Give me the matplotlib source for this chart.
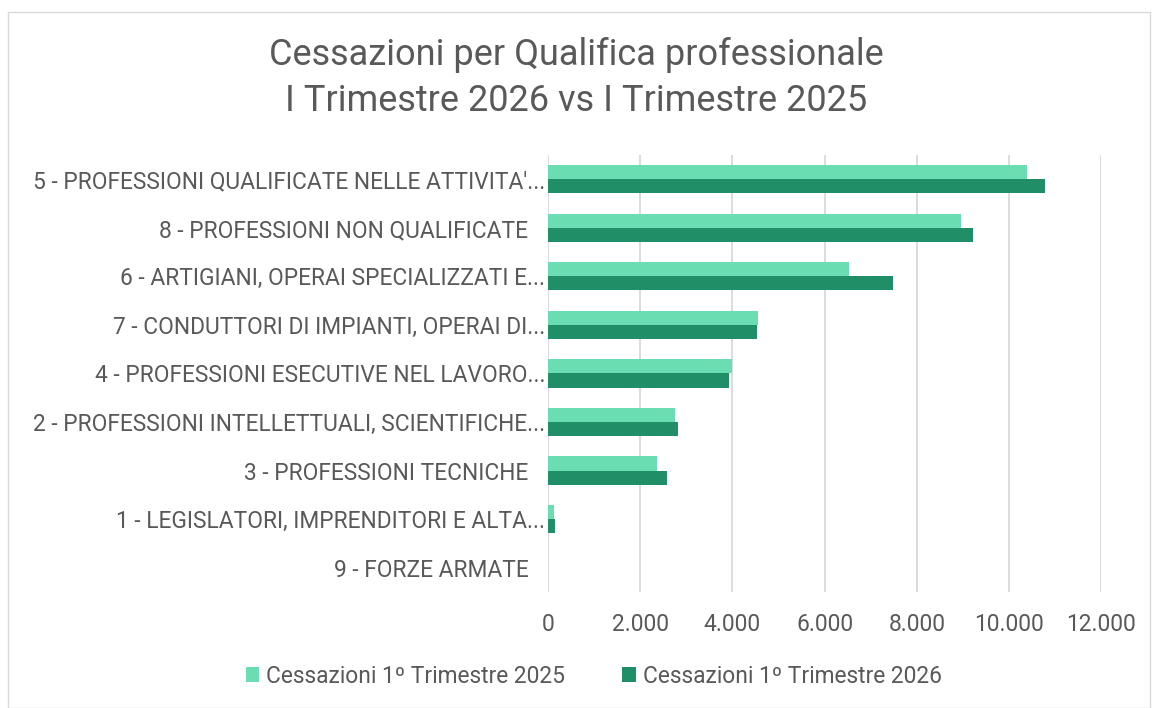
import matplotlib
matplotlib.use("Agg")
import matplotlib.pyplot as plt
from matplotlib.ticker import FuncFormatter
from matplotlib.patches import Rectangle
import numpy as np

# data, top to bottom as shown in the chart
categories = [
    "5 - PROFESSIONI QUALIFICATE NELLE ATTIVITA'...",
    "8 - PROFESSIONI NON QUALIFICATE   ",
    "6 - ARTIGIANI, OPERAI SPECIALIZZATI E...",
    "7 - CONDUTTORI DI IMPIANTI, OPERAI DI...",
    "4 - PROFESSIONI ESECUTIVE NEL LAVORO...",
    "2 - PROFESSIONI INTELLETTUALI, SCIENTIFICHE...",
    "3 - PROFESSIONI TECNICHE   ",
    "1 - LEGISLATORI, IMPRENDITORI E ALTA...",
    "9 - FORZE ARMATE   ",
]
cess_2025 = [10400, 8970, 6530, 4550, 4000, 2750, 2370, 120, 0]
cess_2026 = [10780, 9230, 7480, 4540, 3920, 2810, 2590, 145, 0]
series_names = ["Cessazioni 1º Trimestre 2025", "Cessazioni 1º Trimestre 2026"]

light = "#6ADDB2"
dark = "#208E66"
txt = "#595959"

plt.rcParams['font.family'] = ['Roboto', 'DejaVu Sans']

fig = plt.figure(figsize=(11.53, 7.08), dpi=100)
# outer chart border
fig.patches.append(Rectangle((0.007, 0.0), 0.99, 0.983, transform=fig.transFigure,
                             fill=False, edgecolor="#D9D9D9", linewidth=1.0))

ax = fig.add_axes([0.4753, 0.164, 0.4797, 0.617])

y = np.arange(len(categories))
h = 0.29
ax.barh(y - h / 2, cess_2025, height=h, color=light, label=series_names[0], zorder=3)
ax.barh(y + h / 2, cess_2026, height=h, color=dark, label=series_names[1], zorder=3)

ax.set_ylim(len(categories) - 0.5, -0.5)
ax.set_xlim(0, 12000)
ax.set_xticks(range(0, 12001, 2000))
ax.xaxis.set_major_formatter(FuncFormatter(lambda v, p: f"{int(v):,}".replace(",", ".")))
ax.set_yticks(y)
ax.set_yticklabels(categories)

ax.grid(axis='x', color="#D9D9D9", linewidth=1.3, zorder=0)
for s in ax.spines.values():
    s.set_visible(False)
ax.tick_params(axis='both', length=0, labelsize=16.4, colors=txt)
ax.tick_params(axis='y', pad=2)
ax.tick_params(axis='x', pad=15)

fig.text(0.5, 0.922, "Cessazioni per Qualifica professionale", ha='center', va='center',
         fontsize=26, color=txt)
fig.text(0.5, 0.858, "I Trimestre 2026 vs I Trimestre 2025", ha='center', va='center',
         fontsize=26, color=txt)

fig.legend(loc='center', bbox_to_anchor=(0.515, 0.045), ncol=2, frameon=False,
           fontsize=16.4, labelcolor=txt, handlelength=0.6, handleheight=0.6,
           handletextpad=0.3, columnspacing=2.5)

fig.savefig("out.png", dpi=100)
